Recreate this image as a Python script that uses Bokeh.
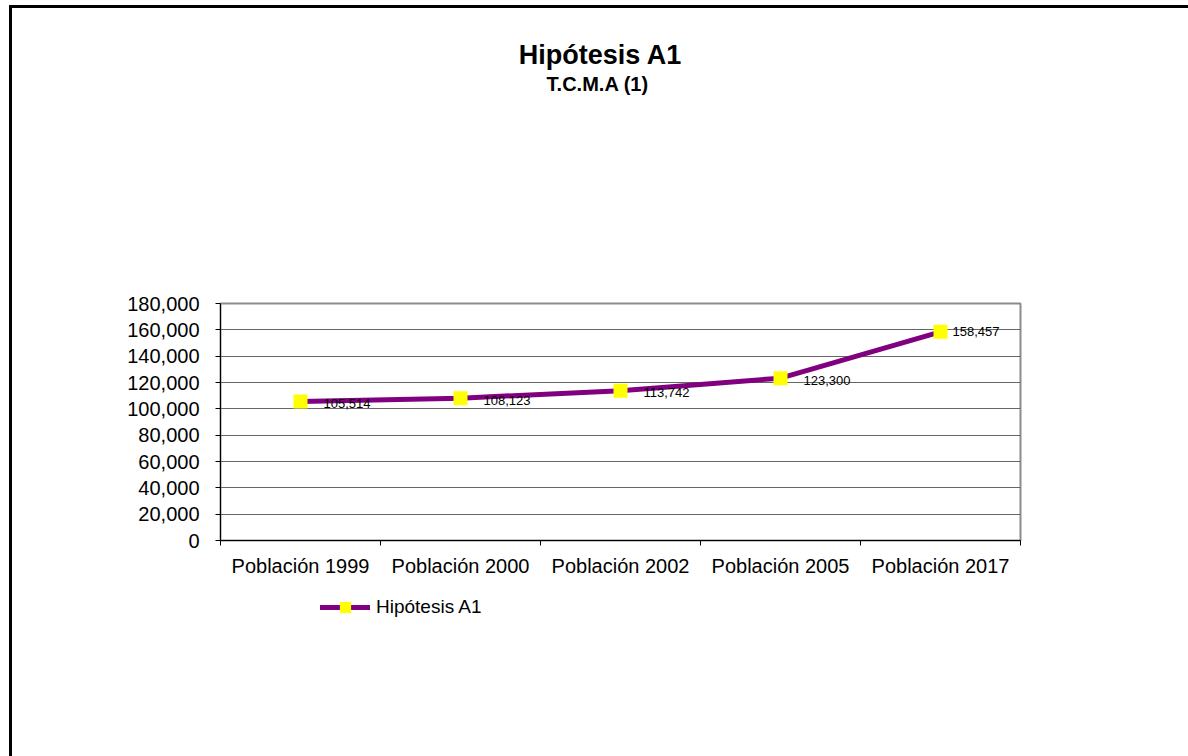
from bokeh.plotting import figure
from bokeh.layouts import column
from bokeh.models import (Range1d, FixedTicker, NumeralTickFormatter,
                          Legend, LegendItem, ColumnDataSource)
from bokeh.core.properties import value
from bokeh.embed import file_html
from bokeh.resources import INLINE

# ---- data ----
categories = ["Población 1999", "Población 2000", "Población 2002",
              "Población 2005", "Población 2017"]
hipotesis_a1 = [105514, 108123, 113742, 123300, 158457]
series_name = "Hipótesis A1"
title_text = "Hipótesis A1"
subtitle_text = "T.C.M.A  (1)"
y_ticks = [0, 20000, 40000, 60000, 80000, 100000, 120000, 140000, 160000, 180000]

FONT = "Liberation Sans"
LINE_COLOR = "#800080"
MARKER_COLOR = "#FFFF00"
W = 1176          # content width   (page x 12 .. 1188)
TOP_H = 120       # title strip     (page y 8 .. 128)
MAIN_H = 454      # chart           (page y 128 .. 582)
BOT_H = 174       # legend strip    (page y 582 .. 756)
BORDER_L, BORDER_R = 208, 168   # plot area spans page x 220 .. 1020


def blank_strip(h, y0):
    f = figure(width=W, height=h, output_backend="svg", toolbar_location=None,
               x_range=Range1d(220, 1020), y_range=Range1d(y0 + h, y0),
               x_axis_type=None, y_axis_type=None,
               min_border_left=BORDER_L, min_border_right=BORDER_R,
               min_border_top=0, min_border_bottom=0)
    f.outline_line_color = None
    f.grid.grid_line_color = None
    f.background_fill_color = "white"
    f.border_fill_color = "white"
    return f


# ---- title strip ----
pt = blank_strip(TOP_H, 8)
pt.text(x=[600], y=[54], text=[title_text], text_font=value(FONT),
        text_font_size="27px", text_font_style="bold", text_color="black",
        text_align="center", text_baseline="middle")
pt.text(x=[600], y=[83], text=[subtitle_text], text_font=value(FONT),
        text_font_size="20px", text_font_style="bold", text_color="black",
        text_align="center", text_baseline="middle")

# ---- chart ----
xs = [i + 0.5 for i in range(len(categories))]
labels = [f"{v:,}" for v in hipotesis_a1]
src_main = ColumnDataSource(dict(x=xs[:-1], y=hipotesis_a1[:-1], t=labels[:-1]))
src_last = ColumnDataSource(dict(x=xs[-1:], y=hipotesis_a1[-1:], t=labels[-1:]))

p = figure(width=W, height=MAIN_H, output_backend="svg", toolbar_location=None,
           x_range=Range1d(0, len(categories)), y_range=Range1d(0, 180000),
           min_border_left=BORDER_L, min_border_right=BORDER_R,
           min_border_top=175, min_border_bottom=42)
p.background_fill_color = "white"
p.border_fill_color = "white"
p.outline_line_color = "#8c8c8c"
p.outline_line_width = 2

p.xaxis.ticker = FixedTicker(ticks=xs, minor_ticks=list(range(len(categories) + 1)))
p.xaxis.major_label_overrides = {x: c for x, c in zip(xs, categories)}
p.xaxis.major_tick_out = 0
p.xaxis.major_tick_in = 0
p.xaxis.minor_tick_out = 5
p.xaxis.minor_tick_in = 0
p.xaxis.minor_tick_line_color = "black"
p.xaxis.major_label_standoff = 9
p.yaxis.ticker = FixedTicker(ticks=y_ticks)
p.yaxis.formatter = NumeralTickFormatter(format="0,0")
p.yaxis.major_tick_out = 5
p.yaxis.major_tick_in = 0
p.yaxis.major_label_standoff = 16
for ax in (p.xaxis, p.yaxis):
    ax.axis_line_color = "black"
    ax.axis_line_width = 1
    ax.major_tick_line_color = "black"
    ax.major_label_text_font = FONT
    ax.major_label_text_font_size = "20px"
    ax.major_label_text_color = "black"

p.xgrid.grid_line_color = None
p.ygrid.grid_line_color = "#666666"
p.ygrid.grid_line_width = 1

p.line(xs, hipotesis_a1, line_color=LINE_COLOR, line_width=5)
p.scatter(xs, hipotesis_a1, marker="square", size=14,
          fill_color=MARKER_COLOR, line_color=None)

p.text("x", "y", text="t", source=src_main, x_offset=23, y_offset=2,
       text_font=value(FONT), text_font_size="13px", text_color="black",
       text_baseline="middle", text_align="left")
p.text("x", "y", text="t", source=src_last, x_offset=12, y_offset=0,
       text_font=value(FONT), text_font_size="13px", text_color="black",
       text_baseline="middle", text_align="left")

# ---- legend strip (legend keyed to the same line/marker styles) ----
pb = blank_strip(BOT_H, 582)
nan = float("nan")
leg_line = pb.line(x=[nan], y=[nan], line_color=LINE_COLOR, line_width=5,
                   line_cap="round")
leg_mark = pb.scatter(x=[nan], y=[nan], marker="square", size=11,
                      fill_color=MARKER_COLOR, line_color=None)
legend = Legend(items=[LegendItem(label=series_name, renderers=[leg_line, leg_mark])],
                location=(100, 135), orientation="horizontal",
                glyph_width=50, glyph_height=28, label_height=28,
                label_standoff=6, padding=0, margin=0, spacing=0,
                border_line_color=None, background_fill_alpha=0,
                label_text_font=FONT, label_text_font_size="19px",
                label_text_color="black")
pb.add_layout(legend)

layout = column(pt, p, pb, spacing=0,
                styles={"margin-left": "9px", "margin-top": "5px",
                        "border-left": "3px solid black",
                        "border-top": "3px solid black"})

open("out.html", "w").write(file_html(layout, INLINE))
